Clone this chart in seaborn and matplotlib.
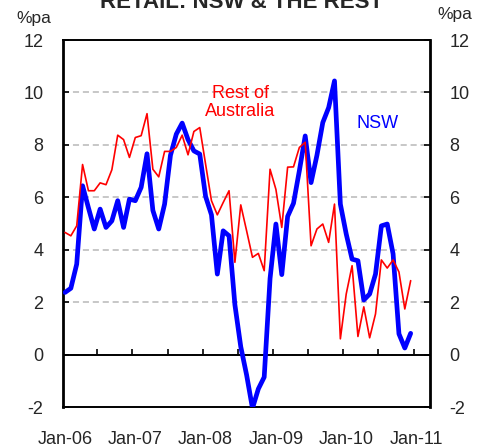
import numpy as np
import pandas as pd
import matplotlib
matplotlib.use('Agg')
import matplotlib.pyplot as plt
import seaborn as sns

# monthly data, Jan-06 .. Dec-10, % per annum
months = pd.date_range('2006-01-01', periods=60, freq='MS')

nsw = [2.37, 2.53, 3.45, 6.44, 5.6, 4.79, 5.55, 4.85, 5.1, 5.87, 4.85, 5.93,
       5.87, 6.38, 7.66, 5.5, 4.79, 5.74, 7.6, 8.41, 8.83, 8.2, 7.77, 7.65,
       6.03, 5.33, 3.07, 4.72, 4.53, 1.9, 0.3, -0.78, -2.05, -1.31, -0.86, 2.9,
       4.98, 3.05, 5.27, 5.77, 7.01, 8.34, 6.56, 7.6, 8.85, 9.42, 10.44, 5.74,
       4.6, 3.64, 3.58, 2.08, 2.31, 3.07, 4.91, 4.98, 3.84, 0.79, 0.25, 0.81]

rest = [4.66, 4.53, 4.91, 7.25, 6.25, 6.25, 6.55, 6.48, 7.05, 8.37, 8.2, 7.52,
        8.28, 8.35, 9.19, 7.07, 6.78, 7.75, 7.75, 7.9, 8.37, 7.62, 8.51, 8.66,
        7.26, 5.87, 5.33, 5.8, 6.25, 3.52, 5.71, 4.72, 3.71, 3.86, 3.2, 7.07,
        6.3, 4.85, 7.15, 7.16, 7.9, 8.1, 4.15, 4.79, 4.98, 4.28, 5.74, 0.6,
        2.31, 3.39, 0.69, 1.82, 0.64, 1.55, 3.61, 3.3, 3.61, 3.15, 1.74, 2.82]

year_labels = ['Jan-06', 'Jan-07', 'Jan-08', 'Jan-09', 'Jan-10', 'Jan-11']
y_ticks = [-2, 0, 2, 4, 6, 8, 10, 12]

df = pd.DataFrame({'month': np.arange(len(months)), 'NSW': nsw, 'Rest': rest})

sns.set_style('white')
plt.rcParams['font.family'] = ['Liberation Sans', 'DejaVu Sans']
plt.rcParams['axes.unicode_minus'] = False

fig = plt.figure(figsize=(4.85, 4.48), dpi=100)
ax = fig.add_axes([63/485, 1 - 407/448, 367/485, 367/448])

ax.set_ylim(y_ticks[0], y_ticks[-1])
ax.set_xlim(-0.34, 62.3)

# grey dashed gridlines + black zero line
ax.set_yticks(y_ticks)
ax.grid(axis='y', color='#b8b8b8', linestyle=(0, (4, 2.5)), linewidth=1.1, zorder=0)
ax.grid(axis='x', visible=False)
ax.axhline(0, color='black', lw=1.4, zorder=2)

sns.lineplot(data=df, x='month', y='NSW', color='#0000ff', lw=3.4, ax=ax, zorder=3)
sns.lineplot(data=df, x='month', y='Rest', color='#ff0000', lw=1.2, ax=ax, zorder=4)
ax.set_xlabel('')
ax.set_ylabel('')

# x labels at the bottom, tick marks on the zero line
ax.set_xticks(np.arange(0, 61, 12))
ax.set_xticklabels(year_labels)
ax.tick_params(axis='x', length=0, pad=17, labelsize=13)

zero_pos = (0 - y_ticks[0]) / (y_ticks[-1] - y_ticks[0])
sec = ax.secondary_xaxis(zero_pos)
sec.set_xticks(np.arange(5.5, 62, 6))
sec.tick_params(direction='in', length=4, width=1.2, labelbottom=False, color='black')
sec.spines['bottom'].set_visible(False)

ax.tick_params(axis='y', left=True, right=True, labelleft=True, labelright=True,
               direction='in', length=4, width=1.2, pad=14, labelsize=13, color='black')

for side in ['left', 'right']:
    ax.spines[side].set_linewidth(2)
    ax.spines[side].set_color('black')
for side in ['top', 'bottom']:
    ax.spines[side].set_linewidth(1.4)
    ax.spines[side].set_color('black')

ax.text(29.9, 9.62, 'Rest of\nAustralia', color='#ff0000', ha='center', va='center',
        fontsize=13, linespacing=1.05)
ax.text(53.3, 8.81, 'NSW', color='#0000ff', ha='center', va='center', fontsize=13)

fig.text(242/485, 1 - 8/448, 'RETAIL: NSW & THE REST', ha='center', va='baseline',
         fontsize=16, fontweight='bold')
fig.text(33.5/485, 1 - 18/448, '%pa', ha='center', va='center', fontsize=12.5)
fig.text(455/485, 1 - 15/448, '%pa', ha='center', va='center', fontsize=12.5)

fig.savefig('out.png', dpi=100)
